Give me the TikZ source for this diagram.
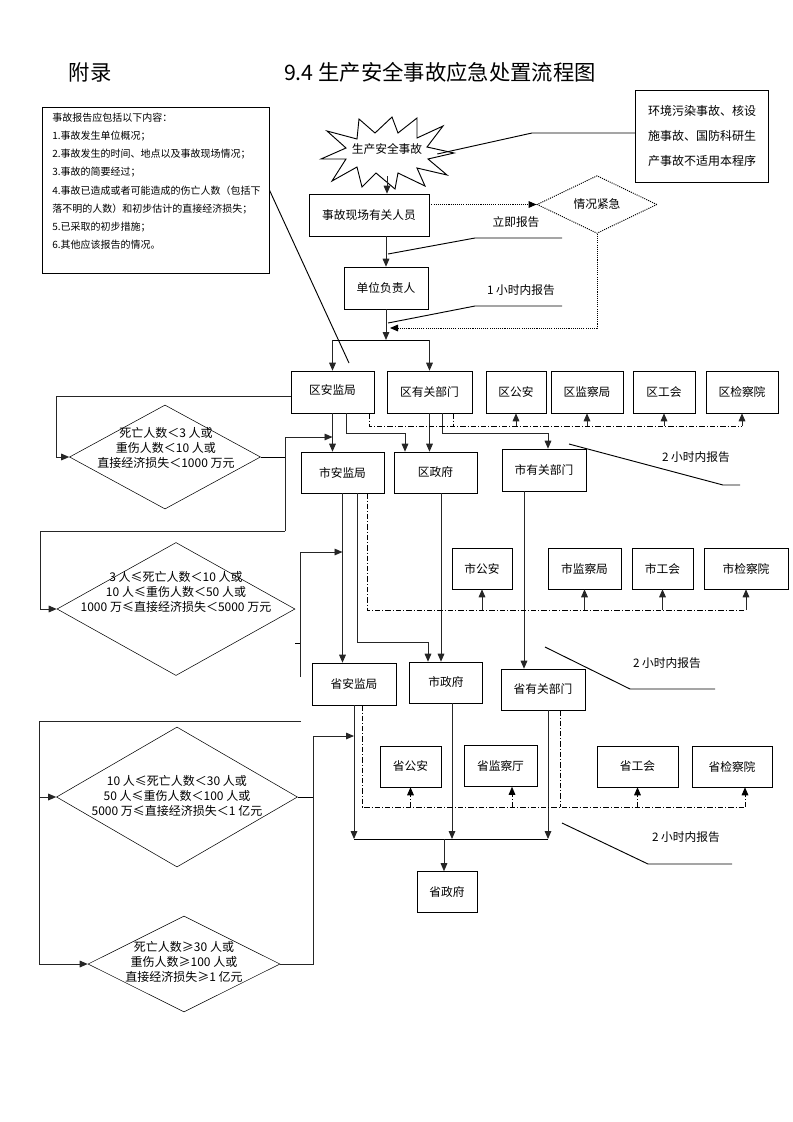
\documentclass[tikz,border=0pt]{standalone}
\usepackage{fontspec}
\setmainfont{Noto Sans CJK SC}
\usetikzlibrary{shapes.geometric,arrows.meta,positioning,calc}

\newcommand\boxfont{\fontsize{8.8}{10.5}\selectfont}
\newcommand\diafont{\fontsize{9}{11.2}\selectfont}
\newcommand\notefont{\fontsize{7.5}{13.7}\selectfont}

\begin{document}
\begin{tikzpicture}[x=0.75pt,y=-0.75pt,
    wd/.style={minimum width=#1*0.75pt},
    ht/.style={minimum height=#1*0.75pt},
    box/.style={draw,ht=42,inner sep=1pt,font=\boxfont},
    dia/.style={diamond,draw,inner sep=0pt},
    dtext/.style={align=center,font=\diafont},
    lab/.style={font=\boxfont},
    ln/.style={line width=0.7pt},
    arr/.style={-{Triangle[length=6pt,width=5pt]},line width=0.7pt,black!85},
    dd/.style={line width=0.7pt,dash pattern=on 4pt off 1.5pt on 0.8pt off 1.5pt},
    ddarr/.style={dd,-{Triangle[length=6pt,width=5pt]}},
    dot/.style={line width=0.7pt,dash pattern=on 0.8pt off 0.8pt},
    darr/.style={dot,-{Triangle[length=6pt,width=5pt]}}
]
\useasboundingbox (0,0) rectangle (793,1122);

% titles and notes
\node[font=\fontsize{16}{18}\selectfont] (fl) at (90,72) {附录};
\node[font=\fontsize{16}{18}\selectfont] (tt) at (440,72) {9.4 生产安全事故应急处置流程图};
\node[draw,anchor=north west,inner sep=0pt,font=\notefont] (note) at (42,107)
    {\parbox[t][124.5pt][t]{170.25pt}{\leftskip=7.5pt\vspace*{4pt}事故报告应包括以下内容：\\
     1.事故发生单位概况；\\
     2.事故发生的时间、地点以及事故现场情况；\\
     3.事故的简要经过；\\
     4.事故已造成或者可能造成的伤亡人数（包括下\\
     落不明的人数）和初步估计的直接经济损失；\\
     5.已采取的初步措施；\\
     6.其他应该报告的情况。}};
\node[draw,wd=133,ht=92,align=center,font=\fontsize{9}{18.8}\selectfont] (env) at (702,136)
    {环境污染事故、核设\\施事故、国防科研生\\产事故不适用本程序};

% report chain
\node[wd=100,ht=52,inner sep=0pt,font=\boxfont] (star) at (387,150) {\raisebox{2pt}{生产安全事故}};
\draw[ln,shift={($(star.center)+(0,3)$)}]
    (67,0) -- (41,6) -- (60,22) -- (30,15) -- (38,33) -- (11,20) -- (8,36)
    -- (-11,20) -- (-25,34) -- (-30,14) -- (-55,28) -- (-41,6) -- (-66,6)
    -- (-41,-5) -- (-60,-22) -- (-30,-14) -- (-28,-34) -- (-12,-20) -- (5,-36)
    -- (11,-20) -- (30,-35) -- (30,-15) -- (56,-27) -- (40,-6) -- cycle;
\node[box,wd=120] (xcry) at (369,215) {事故现场有关人员};
\node[dia,dot,wd=120,ht=41,font=\boxfont] (jinji) at (597,204.5) {情况紧急};
\node[box,wd=84] (dwfzr) at (386,288) {单位负责人};

% district level
\node[box,wd=83] (qajj) at (332.5,392) {\raisebox{3.5pt}{区安监局}\hspace{13pt}};
\node[box,wd=85] (qygbm) at (429.5,392) {区有关部门};
\node[box,wd=60] (qga) at (516,392) {区公安};
\node[box,wd=72] (qjcj) at (587,392) {区监察局};
\node[box,wd=62] (qgh) at (664,392) {区工会};
\node[box,wd=72] (qjcy) at (742,392) {区检察院};

% city level
\node[box,wd=83,ht=41] (sajj) at (342.5,472.5) {市安监局};
\node[box,wd=83,ht=41] (qzf) at (435.5,472.5) {区政府};
\node[box,wd=84] (sygbm) at (544,470) {市有关部门};
\node[box,wd=60,ht=41] (sga) at (482,568.5) {市公安};
\node[box,wd=73,ht=41] (sjcj) at (584.5,568.5) {市监察局};
\node[box,wd=61,ht=41] (sgh) at (662.5,568.5) {市工会};
\node[box,wd=84,ht=41] (sjcy) at (746,568.5) {市检察院};

% province level
\node[box,wd=84] (shajj) at (354,684) {省安监局};
\node[box,wd=73,ht=41] (szf) at (446,682.5) {市政府};
\node[box,wd=84,ht=41] (shygbm) at (543,689.5) {省有关部门};
\node[box,wd=61,ht=41] (shga) at (410.5,766.5) {省公安};
\node[box,wd=73,ht=41] (shjct) at (500.5,766) {省监察厅};
\node[box,wd=81,ht=41] (shgh) at (637.5,766.5) {省工会};
\node[box,wd=80,ht=41] (shjcy) at (732,766.5) {省检察院};
\node[box,wd=60,ht=41] (shzf) at (447,892) {省政府};

% grades
\node[dia,wd=191,ht=104] (d1) at (165,457) {};
\node[dtext] (d1t) at (166,448) {死亡人数＜3 人或\\重伤人数＜10 人或\\直接经济损失＜1000 万元};
\node[dia,wd=238,ht=133] (d2) at (176,609) {};
\node[dtext] (d2t) at (176,592) {3 人≤死亡人数＜10 人或\\10 人≤重伤人数＜50 人或\\1000 万≤直接经济损失＜5000 万元};
\node[dia,wd=241,ht=140] (d3) at (177,797) {};
\node[dtext] (d3t) at (177,796) {10 人≤死亡人数＜30 人或\\50 人≤重伤人数＜100 人或\\5000 万≤直接经济损失＜1 亿元};
\node[dia,wd=192,ht=96] (d4) at (184,964) {};
\node[dtext] (d4t) at (184,962) {死亡人数≥30 人或\\重伤人数≥100 人或\\直接经济损失≥1 亿元};

% time labels
\node[lab] (lab0) at (516,222) {立即报告};
\node[lab] (lab1h) at (521,290) {1 小时内报告};
\node[lab] (lab2a) at (696,457) {2 小时内报告};
\node[lab] (lab2b) at (667,663) {2 小时内报告};
\node[lab] (lab2c) at (686,837) {2 小时内报告};

% top part
\coordinate (k1) at (532,133);
\draw[ln] ([yshift=-3pt]star.east) -- (k1) -- (k1 -| env.west);
\draw[arr] (star.south) -- (star.south |- xcry.north);
\draw[darr] (xcry.east |- jinji.west) -- (jinji.west);
\coordinate (j1) at (390,328);
\draw[darr] (jinji.south) |- (j1);
\draw[arr] (xcry.south -| dwfzr.north) -- (dwfzr.north);
\coordinate (fen) at (387,340);
\draw[arr] (dwfzr.south) -- (dwfzr.south |- fen);
\draw[ln] (fen -| qajj.north) -- (fen -| qygbm.north);
\draw[arr] (fen -| qajj.north) -- (qajj.north);
\draw[arr] (fen -| qygbm.north) -- (qygbm.north);
\coordinate (n1) at (349,363);
\draw[ln] (note.east) -- (n1);

% callouts
\coordinate (c1a) at (388,254); \coordinate (c1b) at (475,238); \coordinate (c1c) at (562,238);
\draw[ln] (c1a) -- (c1b) -- (c1c);
\coordinate (c2a) at (388,323); \coordinate (c2b) at (475,306); \coordinate (c2c) at (562,306);
\draw[ln] (c2a) -- (c2b) -- (c2c);
\coordinate (h1a) at (569,444); \coordinate (h1b) at (723,485); \coordinate (h1c) at (740,485);
\draw[ln] (h1a) -- (h1b) -- (h1c);
\coordinate (h2a) at (545,647); \coordinate (h2b) at (630,689); \coordinate (h2c) at (715,689);
\draw[ln] (h2a) -- (h2b) -- (h2c);
\coordinate (h3a) at (562,823); \coordinate (h3b) at (648,864); \coordinate (h3c) at (732,864);
\draw[ln] (h3a) -- (h3b) -- (h3c);

% district to city
\draw[arr] (qajj.south) -- (qajj.south |- sajj.north);
\coordinate (b1) at (346,433); \coordinate (b2) at (405,433);
\draw[arr] (b1 |- qajj.south) -- (b1) -- (b2) -- (b2 |- qzf.north);
\draw[arr] (qygbm.south) -- (qygbm.south |- qzf.north);
\coordinate (b3) at (442,433); \coordinate (b4) at (548,433);
\draw[arr] (b3 |- qygbm.south) -- (b3) -- (b4) -- (b4 |- sygbm.north);
\coordinate (q1) at (369,426); \coordinate (q2) at (742,426); \coordinate (q3) at (453,426);
\draw[dd] (q1 |- qajj.south) -- (q1) -- (q2);
\draw[dd] (q3 |- qygbm.south) -- (q3);
\foreach \n in {qga,qjcj,qgh,qjcy}
    \draw[arr] (\n.south |- q1) -- (\n.south);

% city to province
\draw[arr] (sajj.south) -- (sajj.south |- shajj.north);
\coordinate (e1) at (357,642); \coordinate (e2) at (428,642);
\draw[arr] (e1 |- sajj.south) -- (e1) -- (e2) -- (e2 |- szf.north);
\coordinate (e3) at (441,600);
\draw[arr] (e3 |- qzf.south) -- (e3 |- szf.north);
\coordinate (e4) at (524,600);
\draw[arr] (e4 |- sygbm.south) -- (e4 |- shygbm.north);
\coordinate (s1) at (367,610); \coordinate (s2) at (745,610);
\draw[dd] (s1 |- sajj.south) -- (s1) -- (s2);
\foreach \n in {sga,sjcj,sgh,sjcy}
    \draw[arr] (\n.south |- s1) -- (\n.south);

% province to government
\coordinate (bar) at (444,839);
\coordinate (g2) at (452,839); \coordinate (g3) at (548,839);
\draw[arr] (shajj.south) -- (shajj.south |- bar);
\draw[arr] (g2 |- szf.south) -- (g2);
\draw[arr] (g3 |- shygbm.south) -- (g3);
\draw[ln] (bar -| shajj.south) -- (g3);
\draw[arr] (bar) -- (bar |- shzf.north);
\coordinate (p1) at (362,807); \coordinate (p2) at (745,807);
\coordinate (p3) at (560,807); \coordinate (p4) at (512,807);
\draw[dd] (p1 |- shajj.south) -- (p1) -- (p2);
\draw[dd] (p3 |- shygbm.south) -- (p3);
\draw[ddarr] (shga.south |- p1) -- (shga.south);
\draw[ddarr] (p4) -- (p4 |- shjct.south);
\draw[ddarr] (shgh.south |- p1) -- (shgh.south);
\draw[ddarr] (p2) -- (p2 |- shjcy.south);

% grade lines
\coordinate (L1) at (56,396);
\draw[arr] (qajj.west |- L1) -- (L1) |- (d1.west);
\coordinate (R1) at (285,437); \coordinate (R1b) at (285,531); \coordinate (L2) at (40,531);
\draw[ln] (d1.east) -- (d1.east -| R1);
\draw[arr] (R1b) -- (R1) -- (R1 -| qajj.south);
\draw[arr] (R1b) -- (L2) |- (d2.west);
\coordinate (R2a) at (300,552); \coordinate (R2b) at (300,677); \coordinate (R2c) at (300,643);
\draw[arr] (R2b) -- (R2a) -- (R2a -| sajj.south);
\draw[ln] (d2.east |- R2c) -- (R2c);
\coordinate (T1) at (301,721); \coordinate (T2) at (39,721);
\draw[arr] (T1) -- (T2) |- (d4.west);
\draw[arr] (T2 |- d3.west) -- (d3.west);
\coordinate (R3) at (313,736);
\draw[arr] (d4.east) -| (R3) -- (R3 -| shajj.south);
\draw[ln] (d3.east) -- (d3.east -| R3);
\end{tikzpicture}
\end{document}
